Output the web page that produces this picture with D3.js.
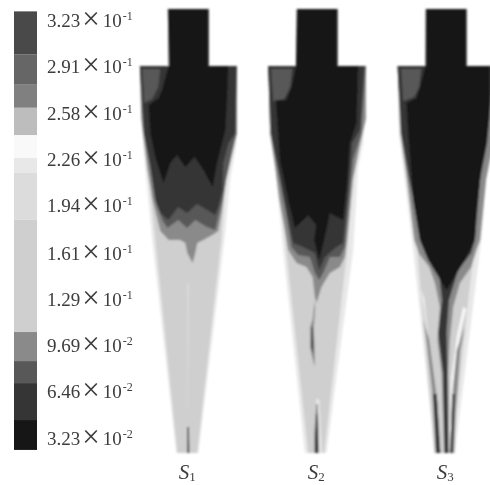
<!DOCTYPE html>
<html>
<head>
<meta charset="utf-8">
<script src="https://cdn.jsdelivr.net/npm/d3@7"></script>
<style>
  html, body { margin: 0; background: #fff; }
  text { font-family: "Liberation Serif", serif; fill: #3c3c3c; }
</style>
</head>
<body>
<div id="chart"></div>
<script>
// colour bar: concentration levels
var tickValues = [0.323, 0.291, 0.258, 0.226, 0.194, 0.161, 0.129, 0.0969, 0.0646, 0.0323];
var tickMantissa = ["3.23", "2.91", "2.58", "2.26", "1.94", "1.61", "1.29", "9.69", "6.46", "3.23"];
var tickExponent = ["-1", "-1", "-1", "-1", "-1", "-1", "-1", "-2", "-2", "-2"];
var bandEdges = [0.024, 0.0448, 0.0705, 0.0858, 0.106, 0.184, 0.217, 0.227, 0.243, 0.262, 0.278, 0.299, 0.329];
var bandGrays = ["#171717", "#343434", "#585858", "#8a8a8a", "#cfcfcf", "#dcdcdc", "#e8e8e8", "#f9f9f9", "#bdbdbd", "#808080", "#666666", "#4a4a4a"];

// contour outlines, [radius from axis, depth from top], one array per level
var s1Edge = [[-20.5,0],[20.5,0],[20.5,57],[48.5,57],[48,135],[42,170],[36,231],[10,444],[-12,444],[-36,231],[-43,160],[-47,110],[-48.5,57],[-20.5,57]];
var s1Cone = [[-40,160],[-33,231],[-11,444],[9,444],[33,231],[37,170],[40,140],[-38,140]];
var s1Light = [[-1.2,275],[0.6,275],[-0.5,400],[-0.9,400]];
var s1G8a = [[-48.5,57],[-47,110],[-41,160],[-36,190],[-28,222],[-19.7,231],[-8,231],[-3,234],[-1,244],[4.3,254],[7,244],[9,234],[15,231],[24,226],[30,222],[34,200],[38,170],[44,145],[48.5,125],[48.5,57]];
var s1G58 = [[-48,57],[-42,130],[-36,170],[-32,195],[-26,211],[-21,219],[-10,211],[-1.3,219],[7,211],[18.7,218],[27,221],[30,208],[34.3,191],[38,170],[43,145],[48,125],[48,57]];
var s1G34 = [[-48.5,57],[-44.5,124],[-38,158],[-33,191],[-28,204],[-20,211],[-10,198],[-1.3,204],[8.7,195],[18.7,201],[27,206],[30,198],[34.3,181],[35,154],[40.3,134],[47,124],[48.5,57]];
var s1Notch = [[-46,60],[-28,60],[-30,78],[-36,90],[-44,94]];
var s1Core = [[-20.5,0],[20.5,0],[20.5,57],[40,57],[38.7,91],[37,121],[28.7,154],[24.3,178],[15.3,161],[6.3,148],[-3,158],[-11.3,146],[-18,154],[-24.7,174],[-33,148],[-38,124],[-39.7,96],[-29.7,89],[-26.3,81],[-19.7,57]];
var s1Tip = [[-0.9,418],[-1,444],[1,444],[0.6,418]];

var s2Edge = [[-20.5,0],[20.5,0],[20.5,57],[48.7,57],[46,134],[41,158],[36,241],[9.3,444],[-12.3,444],[-34,241],[-42,158],[-48,124],[-49,57],[-20.5,57]];
var s2Cone = [[-38,158],[-31,241],[-9,444],[-3,444],[-1,390],[2,390],[5,444],[7,444],[30,241],[36,158]];
var s2G8a = [[-49,57],[-47,124],[-42,158],[-38,190],[-29,241],[-20.7,254],[-10.7,258],[-4.7,268],[-2.3,288],[-0.7,294],[4.3,278],[12.7,264],[22.7,258],[27.7,248],[30,231],[36,170],[42,140],[48.7,110],[48.7,57]];
var s2G58 = [[-49,57],[-47,124],[-40,158],[-32,200],[-25.7,238],[-19,246],[-7.3,248],[-2.3,264],[2,271],[6,264],[12.7,248],[22.7,248],[27.7,238],[32,190],[36,150],[44,125],[48.7,57]];
var s2G34 = [[-49,57],[-46,124],[-40,154],[-33,191],[-24,234],[-14,238],[-2.3,244],[2,261],[7.7,248],[19.3,238],[26,234],[31,185],[35,134],[43,120],[47,57]];
var s2Notch = [[-46,60],[-25,60],[-27,78],[-33,90],[-44,92]];
var s2Core = [[-20.5,0],[20.5,0],[20.5,57],[41,57],[39.3,114],[32.7,134],[30,174],[26,211],[12.7,204],[7,231],[2,251],[-3,231],[-1,216],[-9,206],[-22.3,219],[-29,191],[-37.3,151],[-41.3,91],[-30.7,91],[-25.7,78],[-21.3,57]];
var s2StreakOuter = [[-2.5,292],[-4.5,310],[-7,318],[-7,338],[-5,348],[-2.5,358],[-2.5,340],[-3.5,318],[-2,300]];
var s2Streak = [[-5.5,318],[-6,338],[-4.5,345],[-4,335],[-4.5,318]];
var s2TipOuter = [[-1,395],[-3,425],[-3,444],[2,444],[1.5,420],[0.5,395]];
var s2Tip = [[-0.8,405],[-1.8,430],[-1.8,444],[0.6,444],[0.3,430],[0,405]];

var s3Edge = [[-20.5,0],[20.5,0],[20.5,57],[48.7,57],[46,134],[41,158],[35,231],[8.7,444],[-11.3,444],[-33,241],[-43,158],[-47.3,124],[-48.7,57],[-20.5,57]];
var s3Cone = [[-36,180],[-29,241],[-24,300],[-12,444],[6,444],[21,300],[28,241],[33,180]];
var s3White = [[-25,280],[-22,300],[-17,345],[-10,400],[-7,440],[-5,440],[-12,380],[-18,330],[-22,290]];
var s3WhiteB = [[20,300],[14,325],[8,370],[5,440],[3,440],[5,370],[11,325],[17,298]];
var s3G8a = [[-32,231],[-27,245],[-17,258],[-11.3,274],[-6.3,298],[-8.7,331],[-4.7,364],[-2,444],[3,444],[2,364],[3.7,331],[7,298],[13.7,274],[25,258],[30.3,241],[34,231],[40,170],[46,140],[48.7,57],[-48.7,57],[-46,124],[-40,165]];
var s3G34 = [[-24.7,231],[-19.7,244],[-8,258],[-4,291],[-8,324],[-3,364],[-1.7,444],[2,444],[1.3,364],[0.3,324],[2.7,291],[12,261],[25,244],[28.7,231],[34,170],[41,134],[48,57],[-48.7,57],[-45,124],[-37,170]];
var s3Notch = [[-45,60],[-25,60],[-27,78],[-32,88],[-43,92]];
var s3Core = [[-20.5,0],[20.5,0],[20.5,57],[43.7,57],[43,110],[40.3,134],[35.3,158],[30.3,204],[28.7,231],[18.7,251],[0.3,281],[-18,251],[-26.3,231],[-33,191],[-38,124],[-39.7,94],[-29.7,89],[-26.3,78],[-20.7,57]];
var s3LeftStreak = [[-23,311],[-19.7,331],[-14,381],[-10.5,444],[-5.3,444],[-9,391],[-17,331]];
var s3LeftDark = [[-13,385],[-10,444],[-6,444],[-9.5,385]];
var s3RightStreak = [[18.7,318],[14,341],[10,398],[8,444],[3.7,444],[6.5,381],[10.5,341]];
var s3RightDark = [[8.5,385],[6.5,444],[4,444],[6,385]];

// each panel: name, subscript, axis position on the page, then level + outline, back to front
var panelNames = ["S", "S", "S"];
var panelSubs = ["1", "2", "3"];
var panelAxes = [188.3, 317.2, 446.2];
var panelLayers = [
  [[0.22, s1Edge], [0.15, s1Cone], [0.2, s1Light], [0.09, s1G8a], [0.08, s1G58], [0.05, s1G34], [0.08, s1Notch], [0.03, s1Core], [0.05, s1Tip]],
  [[0.22, s2Edge], [0.15, s2Cone], [0.09, s2G8a], [0.08, s2G58], [0.05, s2G34], [0.08, s2Notch], [0.03, s2Core], [0.09, s2StreakOuter], [0.05, s2Streak], [0.09, s2TipOuter], [0.03, s2Tip]],
  [[0.22, s3Edge], [0.15, s3Cone], [0.235, s3White], [0.235, s3WhiteB], [0.09, s3G8a], [0.05, s3G34], [0.08, s3Notch], [0.03, s3Core], [0.09, s3LeftStreak], [0.05, s3LeftDark], [0.09, s3RightStreak], [0.05, s3RightDark]]
];

var width = 490, height = 485;
var svg = d3.select("#chart").append("svg")
    .attr("width", width)
    .attr("height", height)
    .style("display", "block");

// the source is a soft scan, everything is a bit blurred
var defs = svg.append("defs");
function addBlur(id, dev) {
  defs.append("filter").attr("id", id)
      .attr("filterUnits", "userSpaceOnUse")
      .attr("x", 0).attr("y", 0).attr("width", width).attr("height", height)
    .append("feGaussianBlur").attr("stdDeviation", dev);
}
addBlur("soft", 0.9);
addBlur("softer", 0.5);
addBlur("softText", 0.3);

/* legend */
var levelY = d3.scaleLinear().domain([0.0323, 0.323]).range([438, 20]);
var gray = d3.scaleThreshold().domain(bandEdges.slice(1, -1)).range(bandGrays);

svg.append("g").attr("filter", "url(#softer)")
  .selectAll("rect")
  .data(d3.pairs(bandEdges))
  .enter().append("rect")
    .attr("x", 14)
    .attr("width", 23)
    .attr("y", function(d) { return levelY(d[1]); })
    .attr("height", function(d) { return levelY(d[0]) - levelY(d[1]); })
    .attr("fill", function(d) { return gray(d[0]); });

var axis = svg.append("g")
    .attr("transform", "translate(37,0)")
    .attr("filter", "url(#softText)")
    .call(d3.axisRight(levelY).tickValues(tickValues).tickSize(0).tickPadding(10));
axis.select(".domain").remove();

axis.selectAll(".tick text").each(function(d, i) {
  var t = d3.select(this).text(null).attr("font-size", 19).attr("dy", "0.32em")
      .attr("font-family", null);
  t.append("tspan").text(tickMantissa[i]);
  t.append("tspan").attr("font-size", 31).attr("dx", 2).attr("dy", 2).text("\u00d7");
  t.append("tspan").attr("dy", -2).attr("dx", 3).text("10");
  t.append("tspan").attr("font-size", 12).attr("dx", 1).attr("dy", -7).text(tickExponent[i]);
});

/* separator panels */
var r = d3.scaleLinear().domain([-50, 50]).range([-50, 50]);
var z = d3.scaleLinear().domain([0, 446]).range([9, 455]);
var outline = d3.line()
    .x(function(d) { return r(d[0]); })
    .y(function(d) { return z(d[1]); })
    .curve(d3.curveLinearClosed);

var panel = svg.selectAll(".panel")
    .data(panelLayers)
    .enter().append("g")
    .attr("class", "panel")
    .attr("filter", "url(#soft)")
  .append("g")
    .attr("transform", function(d, i) { return "translate(" + panelAxes[i] + ",0)"; });

panel.selectAll("path")
    .data(function(d) { return d; })
    .enter().append("path")
    .attr("d", function(d) { return outline(d[1]); })
    .attr("fill", function(d) { return gray(d[0]); });

var caption = svg.selectAll(".caption")
    .data(panelNames)
    .enter().append("text")
    .attr("class", "caption")
    .attr("filter", "url(#softText)")
    .attr("text-anchor", "middle")
    .attr("x", function(d, i) { return panelAxes[i] - 1; })
    .attr("y", 479);
caption.append("tspan")
    .attr("font-style", "italic")
    .attr("font-size", 21)
    .text(function(d) { return d; });
caption.append("tspan")
    .attr("font-size", 13)
    .attr("dy", 2)
    .text(function(d, i) { return panelSubs[i]; });
</script>
</body>
</html>
